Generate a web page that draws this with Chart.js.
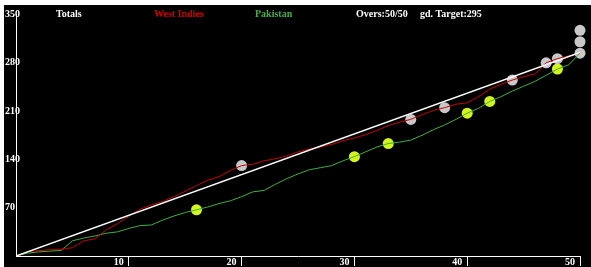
<!DOCTYPE html>
<html>
<head>
<meta charset="utf-8">
<script src="https://cdn.jsdelivr.net/npm/chart.js@4/dist/chart.umd.min.js"></script>
<style>
  html, body { margin: 0; padding: 0; background: #fff; }
  #wrap { position: absolute; left: 4px; top: 5px; width: 587px; height: 262px; background: #000; }
</style>
</head>
<body>
<div id="wrap"><canvas id="worm" width="587" height="262"></canvas></div>
<script>
// overs bowled and cumulative runs at the end of each over
const overs = [0, 1, 2, 3, 4, 5, 6, 7, 8, 9, 10, 11, 12, 13, 14, 15, 16, 17, 18, 19, 20,
    21, 22, 23, 24, 25, 26, 27, 28, 29, 30, 31, 32, 33, 34, 35, 36, 37, 38, 39, 40,
    41, 42, 43, 44, 45, 46, 47, 48, 49, 50];
const wiRuns = [0, 6, 8, 9, 10, 12, 22, 25, 38, 47, 58, 68, 74, 79, 86, 94, 102, 110, 115, 124, 131,
    133, 138, 141, 145, 151, 155, 158, 162, 167, 171, 176, 182, 189, 194, 198, 205, 211, 215, 220, 222,
    231, 242, 249, 255, 260, 264, 280, 286, 290, 294];
const pakRuns = [0, 4, 6, 7, 8, 22, 26, 29, 33, 35, 40, 44, 45, 52, 58, 63, 67, 71, 76, 80, 86,
    93, 95, 104, 112, 119, 125, 128, 131, 138, 144, 151, 158, 163, 165, 168, 175, 183, 190, 198, 207,
    214, 224, 231, 239, 246, 253, 262, 271, 277, 294];
const target = 295;

// overs in which wickets fell
const wiWicketOvers = [20, 35, 38, 44, 47, 48, 50, 50, 50];
const pakWicketOvers = [16, 30, 33, 40, 42, 48];

const xTicks = [10, 20, 30, 40, 50];
const yTicks = [70, 140, 210, 280, 350];

// several wickets in one over get stacked upwards
const STACK_RUNS = 16.5;
function wicketPoints(wOvers, runs) {
    const seen = {};
    return wOvers.map(o => {
        const n = seen[o] || 0;
        seen[o] = n + 1;
        return { x: o, y: runs[overs.indexOf(o)] + n * STACK_RUNS };
    });
}

const labelFont = { family: "Liberation Serif", size: 10, weight: "bold" };

const header = {
    id: "header",
    afterDraw(chart) {
        const ctx = chart.ctx;
        const items = [
            { text: "Totals", color: "#ffffff", x: 52 },
            { text: "West Indies", color: "#cc0000", x: 150 },
            { text: "Pakistan", color: "#44b044", x: 251 },
            { text: "Overs:50/50", color: "#ffffff", x: 352 },
            { text: "gd. Target:" + target, color: "#ffffff", x: 416 },
        ];
        ctx.save();
        ctx.font = "bold 10px 'Liberation Serif'";
        ctx.textBaseline = "middle";
        ctx.textAlign = "left";
        items.forEach(item => {
            ctx.fillStyle = item.color;
            ctx.fillText(item.text, item.x, 9);
        });
        ctx.restore();
    }
};

new Chart(document.getElementById("worm"), {
    type: "line",
    data: {
        datasets: [
            {
                label: "Target",
                data: [{ x: overs[0], y: 0 }, { x: overs[overs.length - 1], y: target }],
                borderColor: "#ffffff",
                borderWidth: 1.5,
                pointRadius: 0,
            },
            {
                label: "West Indies",
                data: overs.map((o, i) => ({ x: o, y: wiRuns[i] })),
                borderColor: "#c40000",
                borderWidth: 1,
                pointRadius: 0,
            },
            {
                label: "Pakistan",
                data: overs.map((o, i) => ({ x: o, y: pakRuns[i] })),
                borderColor: "#3fae3f",
                borderWidth: 1,
                pointRadius: 0,
            },
            {
                label: "West Indies wickets",
                data: wicketPoints(wiWicketOvers, wiRuns),
                showLine: false,
                pointRadius: 5.5,
                pointBorderWidth: 0,
                pointBackgroundColor: "#c8c8c8",
                clip: false,
            },
            {
                label: "Pakistan wickets",
                data: wicketPoints(pakWicketOvers, pakRuns),
                showLine: false,
                pointRadius: 5.5,
                pointBorderWidth: 0,
                pointBackgroundColor: "#d2f51e",
                clip: false,
            },
        ],
    },
    options: {
        responsive: false,
        animation: false,
        layout: { padding: { left: 1, top: 9.5, right: 11, bottom: 0 } },
        plugins: { legend: { display: false }, tooltip: { enabled: false } },
        scales: {
            x: {
                type: "linear",
                min: 0,
                max: 50,
                afterBuildTicks: s => { s.ticks = xTicks.map(v => ({ value: v })); },
                afterFit: s => { s.height = 11; },
                border: { color: "#ffffff", width: 1 },
                grid: { drawOnChartArea: false, drawTicks: true, tickLength: 10, color: "#ffffff", tickColor: "#ffffff" },
                ticks: { align: "end", labelOffset: -5, padding: -10, color: "#ffffff", font: labelFont, maxRotation: 0, autoSkip: false },
            },
            y: {
                min: 0,
                max: 350,
                afterBuildTicks: s => { s.ticks = yTicks.map(v => ({ value: v })); },
                afterFit: s => { s.width = 11; },
                border: { color: "#ffffff", width: 1 },
                grid: { drawOnChartArea: false, drawTicks: false },
                // mirrored so the labels can run over the axis line like the original
                ticks: { mirror: true, crossAlign: "near", padding: -11, color: "#ffffff", font: labelFont },
            },
        },
    },
    plugins: [header],
});
</script>
</body>
</html>
